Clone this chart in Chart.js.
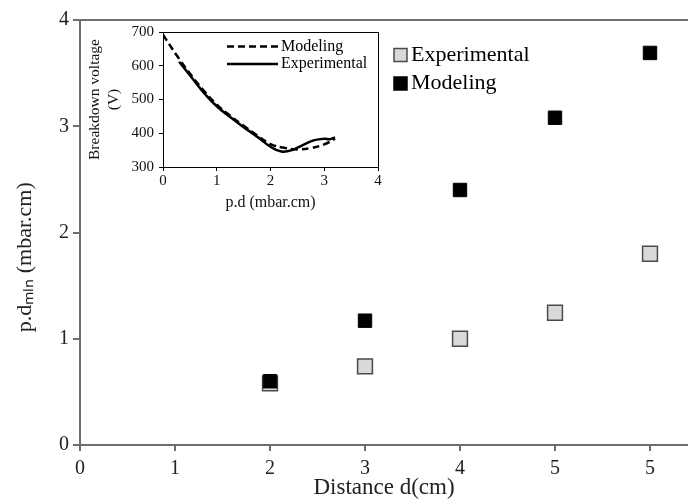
<!DOCTYPE html>
<html>
<head>
<meta charset="utf-8">
<script src="https://cdn.jsdelivr.net/npm/chart.js@4.4.0/dist/chart.umd.min.js"></script>
<style>
  body { margin: 0; background: #fff; }
  #wrap { position: relative; width: 688px; height: 499px; }
  #mainChart { position: absolute; left: 0; top: 0; }
  #insetChart { position: absolute; left: 80px; top: 24px; }
</style>
</head>
<body>
<div id="wrap">
  <canvas id="mainChart" width="688" height="499"></canvas>
  <canvas id="insetChart" width="310" height="196"></canvas>
</div>
<script>
// Data utama
const distance = [2, 3, 4, 5, 6];
const experimental = [0.58, 0.74, 1.0, 1.245, 1.8];
const modeling = [0.6, 1.17, 2.4, 3.08, 3.69];
const xTickValues = [0, 1, 2, 3, 4, 5, 6];
const xTickLabels = ['0', '1', '2', '3', '4', '5', '5'];

// Data inset (tegangan tembus)
const pdModel = [0, 0.25, 0.5, 0.75, 1.0, 1.25, 1.5, 1.75, 2.0, 2.25, 2.5, 2.75, 3.0, 3.2];
const vModel = [692, 632, 577, 528, 485, 452, 422, 394, 368, 357, 352, 356, 367, 384];
const pdExp = [0.3, 0.5, 0.75, 1.0, 1.25, 1.5, 1.75, 2.0, 2.2, 2.4, 2.6, 2.8, 3.0, 3.1, 3.2];
const vExp = [612, 572, 522, 480, 448, 418, 390, 360, 346, 350, 365, 379, 384, 382, 388];

const serif = "'Liberation Serif', 'Times New Roman', serif";
const axisGray = '#6e6e6e';

// buang padding otomatis supaya area plot pas
const noPad = s => { s.paddingLeft = 0; s.paddingRight = 0; s.paddingTop = 0; s.paddingBottom = 0; };

// legenda sederhana yang digambar di posisi bebas
function floatLegend(o) {
  return {
    id: 'floatLegend',
    afterDraw(chart) {
      const ctx = chart.ctx;
      ctx.save();
      ctx.font = o.size + 'px ' + serif;
      ctx.textBaseline = 'middle';
      ctx.textAlign = 'left';
      chart.data.datasets.forEach((ds, i) => {
        const y = o.y + i * o.row;
        if (o.line) {
          ctx.beginPath();
          ctx.setLineDash(ds.borderDash || []);
          ctx.lineWidth = ds.borderWidth;
          ctx.strokeStyle = ds.borderColor;
          ctx.moveTo(o.x, y);
          ctx.lineTo(o.x + o.len, y);
          ctx.stroke();
          ctx.setLineDash([]);
        } else {
          ctx.fillStyle = ds.backgroundColor;
          ctx.fillRect(o.x, y - o.len / 2, o.len, o.len);
          ctx.lineWidth = 1.5;
          ctx.strokeStyle = ds.borderColor;
          ctx.strokeRect(o.x, y - o.len / 2, o.len, o.len);
        }
        ctx.fillStyle = '#000';
        ctx.fillText(ds.label, o.x + o.len + o.gap, y);
      });
      ctx.restore();
    }
  };
}

// Grafik utama
new Chart(document.getElementById('mainChart'), {
  type: 'scatter',
  data: {
    datasets: [{
      label: 'Experimental',
      data: distance.map((d, i) => ({ x: d, y: experimental[i] })),
      backgroundColor: '#d9d9d9',
      borderColor: '#4a4a4a',
      borderWidth: 1.5,
      pointStyle: 'rect',
      pointRadius: 10.5,
      order: 2
    }, {
      label: 'Modeling',
      data: distance.map((d, i) => ({ x: d, y: modeling[i] })),
      backgroundColor: '#000',
      borderColor: '#000',
      borderWidth: 1,
      pointStyle: 'rect',
      pointRadius: 9.5,
      order: 1
    }]
  },
  options: {
    responsive: false,
    animation: false,
    layout: { autoPadding: false, padding: { top: 20, left: 0, right: 0, bottom: 0 } },
    plugins: { legend: { display: false }, tooltip: { enabled: false } },
    scales: {
      x: {
        type: 'linear',
        min: 0,
        max: 6.4,
        afterBuildTicks: s => { s.ticks = xTickValues.map(v => ({ value: v })); },
        afterFit: s => { s.height = 54; noPad(s); },
        grid: { drawOnChartArea: false, drawTicks: true, tickLength: 6, color: axisGray, lineWidth: 2 },
        border: { color: axisGray, width: 2 },
        ticks: {
          padding: 6,
          color: '#222',
          font: { family: serif, size: 20 },
          callback: (v, i) => xTickLabels[i]
        },
        title: {
          display: true,
          text: 'Distance d(cm)',
          color: '#222',
          font: { family: serif, size: 23, lineHeight: 1 },
          padding: { top: 0, bottom: 0 }
        }
      },
      xTop: {
        type: 'linear',
        position: 'top',
        grid: { display: false, drawTicks: false },
        ticks: { display: false },
        border: { display: true, color: axisGray, width: 2 },
        afterFit: s => { s.height = 0; noPad(s); }
      },
      y: {
        min: 0,
        max: 4,
        afterFit: s => { s.width = 80; noPad(s); },
        grid: { drawOnChartArea: false, drawTicks: true, tickLength: 7, color: axisGray, lineWidth: 2 },
        border: { color: axisGray, width: 2 },
        ticks: {
          stepSize: 1,
          padding: 4,
          color: '#222',
          font: { family: serif, size: 20 }
        },
        title: {
          display: true,
          text: 'p.d\u2098\u2097\u2099 (mbar.cm)\u00a0\u00a0\u00a0\u00a0\u00a0\u00a0\u00a0\u00a0\u00a0',
          color: '#222',
          font: { family: serif, size: 22 },
          padding: { top: 12, bottom: 0 }
        }
      }
    }
  },
  plugins: [floatLegend({ x: 394, y: 55, row: 28.5, len: 13, gap: 4, size: 22, line: false })]
});

// Grafik inset
new Chart(document.getElementById('insetChart'), {
  type: 'line',
  data: {
    datasets: [{
      label: 'Modeling',
      data: pdModel.map((p, i) => ({ x: p, y: vModel[i] })),
      borderColor: '#000',
      borderWidth: 2.5,
      borderDash: [7, 4],
      pointRadius: 0,
      tension: 0.4,
      fill: false
    }, {
      label: 'Experimental',
      data: pdExp.map((p, i) => ({ x: p, y: vExp[i] })),
      borderColor: '#000',
      borderWidth: 2.5,
      pointRadius: 0,
      tension: 0.4,
      fill: false
    }]
  },
  options: {
    responsive: false,
    animation: false,
    layout: { autoPadding: false, padding: { top: 8, left: 0, right: 12, bottom: 0 } },
    plugins: { legend: { display: false }, tooltip: { enabled: false } },
    scales: {
      x: {
        type: 'linear',
        min: 0,
        max: 4,
        afterFit: s => { s.height = 53; noPad(s); },
        grid: { drawOnChartArea: false, tickLength: 4, color: '#000' },
        border: { color: '#000', width: 1 },
        ticks: { stepSize: 1, padding: 1, color: '#111', font: { family: serif, size: 15 } },
        title: {
          display: true,
          text: 'p.d (mbar.cm)',
          color: '#111',
          font: { family: serif, size: 16, lineHeight: 1 },
          padding: { top: 0, bottom: 9 }
        }
      },
      xTop: {
        type: 'linear',
        position: 'top',
        grid: { display: false, drawTicks: false },
        ticks: { display: false },
        border: { display: true, color: '#000', width: 1 },
        afterFit: s => { s.height = 0; noPad(s); }
      },
      y: {
        min: 300,
        max: 700,
        afterFit: s => { s.width = 83; noPad(s); },
        grid: { drawOnChartArea: false, tickLength: 4, color: '#000' },
        border: { color: '#000', width: 1 },
        ticks: { stepSize: 100, padding: 5, color: '#111', font: { family: serif, size: 15 } },
        title: {
          display: true,
          text: ['Breakdown voltage', '(V)'],
          color: '#111',
          font: { family: serif, size: 15.5 },
          padding: { top: 6, bottom: 0 }
        }
      },
      yRight: {
        type: 'linear',
        position: 'right',
        grid: { display: false, drawTicks: false },
        ticks: { display: false },
        border: { display: true, color: '#000', width: 1 },
        afterFit: s => { s.width = 0; noPad(s); }
      }
    }
  },
  plugins: [floatLegend({ x: 147, y: 22.5, row: 17.6, len: 51, gap: 3, size: 16, line: true })]
});
</script>
</body>
</html>
